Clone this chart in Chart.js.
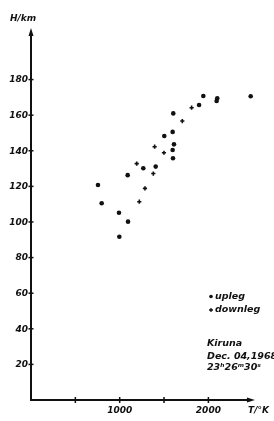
<!DOCTYPE html>
<html>
<head>
<meta charset="utf-8">
<script src="https://cdn.jsdelivr.net/npm/chart.js@4/dist/chart.umd.min.js"></script>
<style>
html,body{margin:0;padding:0;background:#fff;}
canvas{display:block;}
</style>
</head>
<body>
<canvas id="c" width="274" height="421"></canvas>
<script>
// Data (T in K, H in km)
const uplegT = [755, 797, 992, 1094, 996, 1090, 1266, 1406, 1601, 1597, 1612, 1503, 1597, 1604, 1895, 1943, 2100, 2093, 2477];
const uplegH = [120.8, 110.5, 105.2, 100.2, 91.7, 126.3, 130.2, 131.1, 135.8, 140.4, 143.6, 148.3, 150.6, 161, 165.7, 170.8, 169.5, 168, 170.6];
const downlegT = [1192, 1379, 1394, 1499, 1285, 1221, 1811, 1706];
const downlegH = [132.8, 127.2, 142.3, 138.9, 118.9, 111.4, 164.2, 156.7];

const yTicks = [20, 40, 60, 80, 100, 120, 140, 160, 180];
const xTicks = [500, 1000, 1500, 2000];
const xTickLabels = ['', '1000', '', '2000'];

const seriesNames = ['upleg', 'downleg'];
const axisTitles = {x: 'T/°K', y: 'H/km'};
const noteLines = ['Kiruna', 'Dec. 04,1968', '23ʰ26ᵐ30ˢ'];

const X_MAX = 2600, Y_MAX = 212, X_ARROW = 2525, Y_ARROW = 209;

const toPts = (xs, ys) => xs.map((v, i) => ({x: v, y: ys[i]}));

const FONT = "'DejaVu Sans', sans-serif";

const axesPlugin = {
  id: 'axesDraw',
  beforeDraw(chart) {
    const ctx = chart.ctx;
    ctx.save();
    ctx.fillStyle = '#fff';
    ctx.fillRect(0, 0, chart.width, chart.height);
    ctx.restore();
  },
  beforeDatasetsDraw(chart) {
    const {ctx, scales: {x, y}} = chart;
    const x0 = x.getPixelForValue(0), y0 = y.getPixelForValue(0);
    const xe = x.getPixelForValue(X_ARROW), ye = y.getPixelForValue(Y_ARROW);
    ctx.save();
    ctx.strokeStyle = '#111';
    ctx.fillStyle = '#111';
    ctx.lineWidth = 2;
    ctx.beginPath();
    ctx.moveTo(x0, y0 + 1);
    ctx.lineTo(x0, ye + 5);
    ctx.moveTo(x0 - 1, y0);
    ctx.lineTo(xe - 5, y0);
    ctx.stroke();
    // arrow heads
    ctx.beginPath();
    ctx.moveTo(x0, ye);
    ctx.lineTo(x0 - 2.5, ye + 8);
    ctx.lineTo(x0 + 2.5, ye + 8);
    ctx.closePath();
    ctx.fill();
    ctx.beginPath();
    ctx.moveTo(xe, y0);
    ctx.lineTo(xe - 8, y0 - 2.5);
    ctx.lineTo(xe - 8, y0 + 2.5);
    ctx.closePath();
    ctx.fill();
    // ticks
    ctx.lineWidth = 1.5;
    ctx.font = "italic bold 9px " + FONT;
    ctx.textAlign = 'right';
    ctx.textBaseline = 'middle';
    yTicks.forEach(v => {
      const py = y.getPixelForValue(v);
      ctx.beginPath();
      ctx.moveTo(x0 - 2.5, py);
      ctx.lineTo(x0 + 2.5, py);
      ctx.stroke();
      ctx.fillText(String(v), x0 - 3, py + 0.5);
    });
    ctx.textAlign = 'center';
    ctx.textBaseline = 'top';
    xTicks.forEach((v, i) => {
      const px = x.getPixelForValue(v);
      ctx.beginPath();
      ctx.moveTo(px, y0 - 3);
      ctx.lineTo(px, y0 + 3);
      ctx.stroke();
      if (xTickLabels[i]) ctx.fillText(xTickLabels[i], px, y0 + 6);
    });
    // axis titles
    ctx.textAlign = 'left';
    ctx.textBaseline = 'middle';
    ctx.fillText(axisTitles.y, 10, 19);
    ctx.textBaseline = 'top';
    ctx.fillText(axisTitles.x, 248, y0 + 6);
    // legend and notes
    ctx.font = "italic bold 9.5px " + FONT;
    ctx.textBaseline = 'middle';
    ctx.beginPath();
    ctx.arc(211, 296.5, 1.8, 0, Math.PI * 2);
    ctx.fill();
    ctx.fillText(seriesNames[0], 215, 296.5);
    ctx.lineWidth = 1.3;
    ctx.beginPath();
    ctx.moveTo(209, 310); ctx.lineTo(213, 310);
    ctx.moveTo(211, 308); ctx.lineTo(211, 312);
    ctx.stroke();
    ctx.fillText(seriesNames[1], 215, 310);
    ctx.fillText(noteLines[0], 207, 344);
    ctx.fillText(noteLines[1], 207, 357);
    ctx.fillText(noteLines[2], 207, 368);
    ctx.restore();
  }
};

new Chart(document.getElementById('c'), {
  type: 'scatter',
  data: {
    datasets: [
      {
        label: seriesNames[0],
        data: toPts(uplegT, uplegH),
        pointStyle: 'circle',
        pointRadius: 2.3,
        backgroundColor: '#111',
        borderColor: '#111',
        borderWidth: 0
      },
      {
        label: seriesNames[1],
        data: toPts(downlegT, downlegH),
        pointStyle: 'cross',
        pointRadius: 2.1,
        backgroundColor: '#111',
        borderColor: '#111',
        borderWidth: 1.6
      }
    ]
  },
  options: {
    responsive: false,
    animation: false,
    layout: {padding: {left: 31, right: 12.4, top: 22.6, bottom: 21}},
    plugins: {legend: {display: false}, tooltip: {enabled: false}},
    scales: {
      x: {type: 'linear', min: 0, max: X_MAX, display: false},
      y: {type: 'linear', min: 0, max: Y_MAX, display: false}
    }
  },
  plugins: [axesPlugin]
});
</script>
</body>
</html>
